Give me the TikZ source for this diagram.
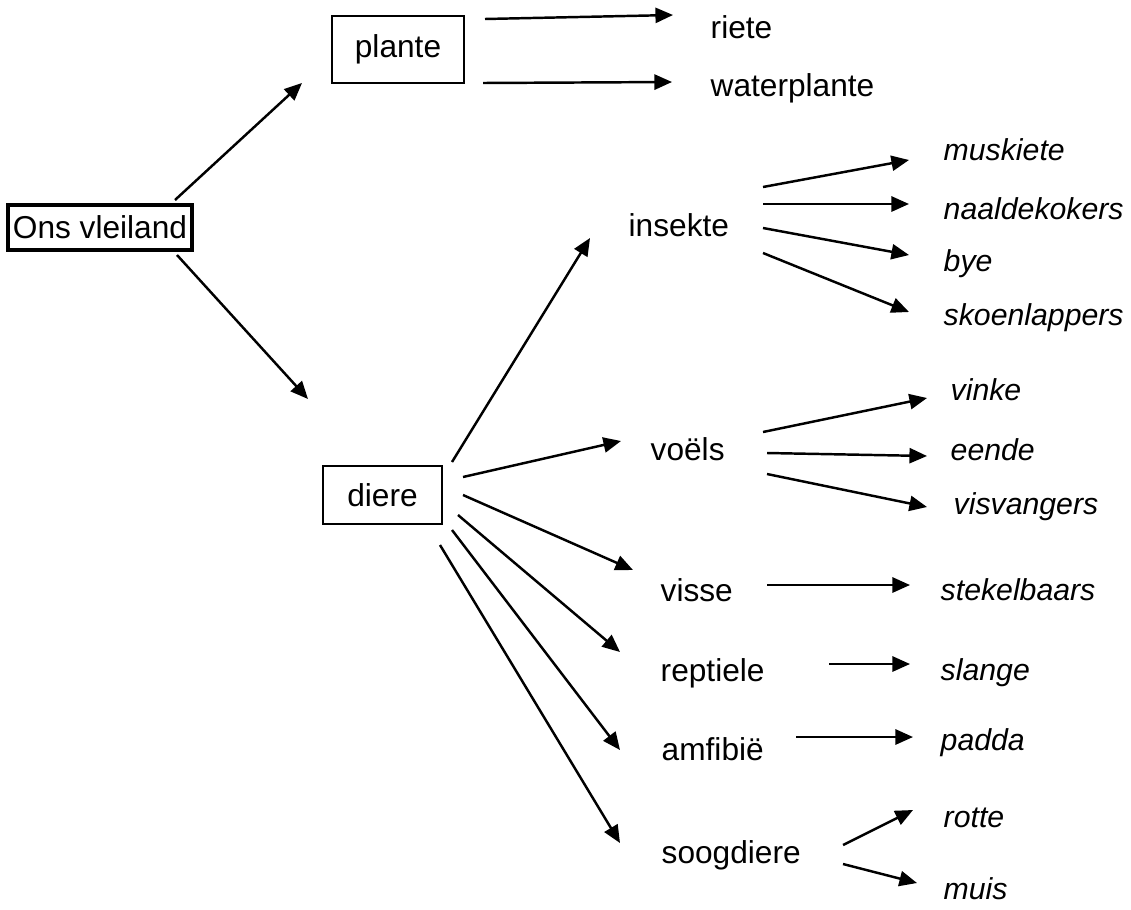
\documentclass[tikz,border=0pt]{standalone}
\usepackage{fontspec}
\setmainfont{Liberation Sans}
\usetikzlibrary{arrows.meta}
\tikzset{
  box/.style={draw, line width=0.5pt, inner sep=0pt, font=\fontsize{9}{11}\selectfont},
  rootbox/.style={draw, line width=1.3pt, inner sep=0pt, font=\fontsize{9}{11}\selectfont},
  cat/.style={anchor=west, inner sep=0pt, text height=6.5pt, text depth=1.8pt, font=\fontsize{9}{11}\selectfont},
  leaf/.style={anchor=west, inner sep=0pt, text height=6.2pt, text depth=1.7pt, font=\fontsize{8.6}{10}\selectfont\itshape},
  arr/.style={line width=0.7pt, -{Triangle[length=5pt, width=4.3pt]}}
}
\begin{document}
\begin{tikzpicture}[x=0.01cm, y=-0.01cm]
\useasboundingbox (0,0) rectangle (1131,909);

% boxed nodes
\node[rootbox, minimum width=1.84cm, minimum height=0.45cm] (ons) at (100,227.5) {Ons vleiland};
\node[box, minimum width=1.32cm, minimum height=0.67cm] (plante) at (398,49.5) {plante};
\node[box, minimum width=1.19cm, minimum height=0.58cm] (diere) at (382.5,495) {diere};

% plants
\node[cat] (riete) at (710,30) {riete};
\node[cat] (water) at (710,88) {waterplante};

% animal groups
\node[cat] (insekte) at (628,228) {insekte};
\node[cat] (voels) at (650,452) {voëls};
\node[cat] (visse) at (660,593) {visse};
\node[cat] (reptiele) at (660,673) {reptiele};
\node[cat] (amfibie) at (661,752) {amfibië};
\node[cat] (soogdiere) at (661,855) {soogdiere};

% examples
\node[leaf] (muskiete) at (943,153) {muskiete};
\node[leaf] (naalde) at (943,212) {naaldekokers};
\node[leaf] (bye) at (943,264) {bye};
\node[leaf] (skoen) at (943,318) {skoenlappers};
\node[leaf] (vinke) at (950,393) {vinke};
\node[leaf] (eende) at (950,453) {eende};
\node[leaf] (visv) at (953,507) {visvangers};
\node[leaf] (stekel) at (940,593) {stekelbaars};
\node[leaf] (slange) at (940,673) {slange};
\node[leaf] (padda) at (940,743) {padda};
\node[leaf] (rotte) at (943,820) {rotte};
\node[leaf] (muis) at (943,892) {muis};

% connector ends
\coordinate (o1) at (175,200);  \coordinate (o1h) at (302,83);
\coordinate (o2) at (177,255);  \coordinate (o2h) at (308,399);
\coordinate (p1) at (485,19);   \coordinate (p1h) at (673,15);
\coordinate (p2) at (483,83);   \coordinate (p2h) at (672,82);
\coordinate (d1) at (452,462);  \coordinate (d1h) at (590,238);
\coordinate (d2) at (463,477);  \coordinate (d2h) at (621,441);
\coordinate (d3) at (463,495);  \coordinate (d3h) at (633,570);
\coordinate (d4) at (458,515);  \coordinate (d4h) at (620,652);
\coordinate (d5) at (452,530);  \coordinate (d5h) at (620,750);
\coordinate (d6) at (440,545);  \coordinate (d6h) at (620,843);
\coordinate (i1) at (763,187);  \coordinate (i1h) at (909,160);
\coordinate (i2) at (763,204);  \coordinate (i2h) at (909,204);
\coordinate (i3) at (763,228);  \coordinate (i3h) at (909,255);
\coordinate (i4) at (763,253);  \coordinate (i4h) at (909,312);
\coordinate (v1) at (763,432);  \coordinate (v1h) at (927,398);
\coordinate (v2) at (767,453);  \coordinate (v2h) at (927,456);
\coordinate (v3) at (767,474);  \coordinate (v3h) at (927,507);
\coordinate (f1) at (767,585);  \coordinate (f1h) at (910,585);
\coordinate (r1) at (829,664);  \coordinate (r1h) at (910,664);
\coordinate (a1) at (796,737);  \coordinate (a1h) at (913,737);
\coordinate (s1) at (843,845);  \coordinate (s1h) at (913,810);
\coordinate (s2) at (843,864);  \coordinate (s2h) at (917,883);

% connectors
\foreach \a/\b in {o1/o1h, o2/o2h, p1/p1h, p2/p2h,
  d1/d1h, d2/d2h, d3/d3h, d4/d4h, d5/d5h, d6/d6h,
  i1/i1h, i2/i2h, i3/i3h, i4/i4h, v1/v1h, v2/v2h, v3/v3h,
  f1/f1h, r1/r1h, a1/a1h, s1/s1h, s2/s2h}
  \draw[arr] (\a) -- (\b);
\end{tikzpicture}
\end{document}
